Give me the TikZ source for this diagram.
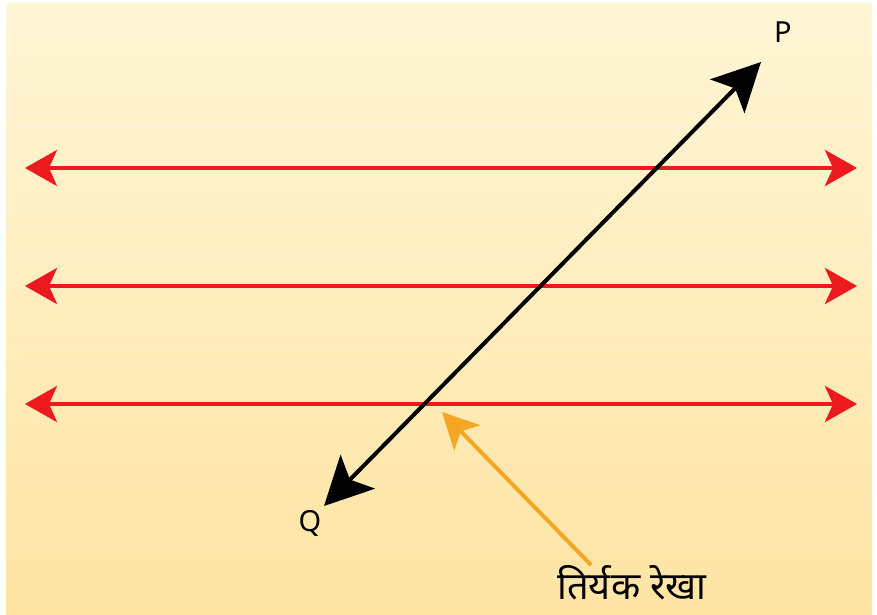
\documentclass[tikz,border=0pt]{standalone}
\usepackage{fontspec}
\setmainfont{Noto Sans}
\newfontfamily\devfont[Script=Devanagari]{Noto Sans}
\usetikzlibrary{arrows.meta}
\definecolor{bgtop}{HTML}{FFF6D6}
\definecolor{bgbot}{HTML}{FFE4A4}
\definecolor{redline}{HTML}{EC1A1E}
\definecolor{orangearr}{HTML}{F5A623}
\tikzset{
  parline/.style={draw=redline, line width=4.5pt, {Stealth[length=32pt,width=36pt,inset=8pt]}-{Stealth[length=32pt,width=36pt,inset=8pt]}},
  transline/.style={draw=black, line width=4pt, {Stealth[length=48pt,width=48pt,inset=11pt]}-{Stealth[length=48pt,width=48pt,inset=11pt]}},
  pointer/.style={draw=orangearr, line width=4pt, -{Stealth[length=36pt,width=36pt,inset=9pt]}},
  ptlabel/.style={font=\fontsize{29}{31}\selectfont, inner sep=0pt},
  hinlabel/.style={font=\devfont\fontsize{38}{42}\selectfont, inner sep=0pt}
}
\begin{document}
\begin{tikzpicture}[x=1pt,y=-1pt]
\useasboundingbox (0,0) rectangle (877,614);
\fill[white] (0,0) rectangle (877,614);
\shade[top color=bgtop, bottom color=bgbot] (6,3) rectangle (872,614);
% parallel lines
\coordinate (l1) at (25,168); \coordinate (r1) at (857,168);
\coordinate (l2) at (25,286); \coordinate (r2) at (857,286);
\coordinate (l3) at (25,404); \coordinate (r3) at (857,404);
\draw[parline] (l1) -- (r1);
\draw[parline] (l2) -- (r2);
\draw[parline] (l3) -- (r3);
% transversal
\coordinate (q) at (324,506);
\coordinate (p) at (761,62);
\draw[transline] (q) -- (p);
\node[ptlabel] (plab) at (783,32) {P};
\node[ptlabel] (qlab) at (310,523) {Q};
% label and pointer
\node[hinlabel] (tlab) at (632,583) {तिर्यक रेखा};
\coordinate (ptstart) at (591,565);
\coordinate (pttip) at (442,412);
\draw[pointer] (ptstart) -- (pttip);
\end{tikzpicture}
\end{document}
